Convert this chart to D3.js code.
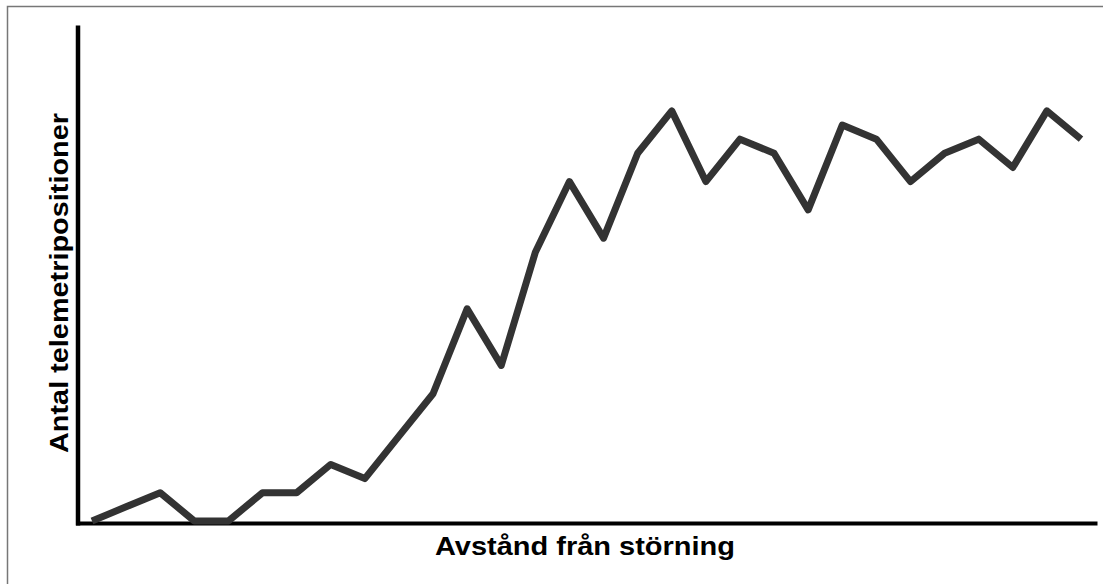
<!DOCTYPE html>
<html>
<head>
<meta charset="utf-8">
<script src="https://cdn.jsdelivr.net/npm/d3@7/dist/d3.min.js"></script>
<style>
body { margin: 0; background-color: white; }
text { font-family: "Liberation Sans", Arial, sans-serif; font-weight: bold; }
</style>
</head>
<body>
<svg id="chart"></svg>
<script>
// antal positioner per avståndsklass
var counts = [0, 1, 2, 0, 0, 2, 2, 4, 3, 6, 9, 15, 11, 19, 24, 20, 26, 29, 24, 27, 26, 22, 28, 27, 24, 26, 27, 25, 29, 27];
var xTitle = "Avstånd från störning";
var yTitle = "Antal telemetripositioner";

const width = 1103;
const height = 584;
var svg = d3.select("#chart").attr("width", width).attr("height", height);

// ram runt diagrammet
svg.append("rect")
   .attr("x", 7.5).attr("y", 6.5)
   .attr("width", width).attr("height", height)
   .attr("fill", "none")
   .attr("stroke", "#777")
   .attr("stroke-width", 1.5);

var xscale = d3.scaleLinear().domain([0, counts.length - 1]).range([92, 1081]);
var yscale = d3.scaleLinear().domain([0, 35]).range([521, 26]);

var line = d3.line()
             .x((d, i) => xscale(i))
             .y((d) => yscale(d));

// axlar utan skalstreck
svg.append("g")
   .attr("transform", "translate(0,523)")
   .call(d3.axisBottom(d3.scaleLinear().range([75.5, 1097])).ticks(0).tickSizeOuter(0))
   .call(g => g.select(".domain").attr("stroke", "black").attr("stroke-width", 4));

svg.append("g")
   .attr("transform", "translate(77.5,0)")
   .call(d3.axisLeft(d3.scaleLinear().range([525, 25])).ticks(0).tickSizeOuter(0))
   .call(g => g.select(".domain").attr("stroke", "black").attr("stroke-width", 4.5));

svg.append("path")
   .datum(counts)
   .attr("fill", "none")
   .attr("stroke", "#333")
   .attr("stroke-width", 7)
   .attr("stroke-linejoin", "round")
   .attr("d", line);

svg.append("text")
   .attr("x", 585).attr("y", 555)
   .attr("text-anchor", "middle")
   .attr("font-size", 25)
   .attr("textLength", 300)
   .attr("lengthAdjust", "spacingAndGlyphs")
   .attr("fill", "black")
   .text(xTitle);

svg.append("text")
   .attr("transform", "translate(68,283) rotate(-90)")
   .attr("text-anchor", "middle")
   .attr("font-size", 25)
   .attr("textLength", 340)
   .attr("lengthAdjust", "spacingAndGlyphs")
   .attr("fill", "black")
   .text(yTitle);
</script>
</body>
</html>
